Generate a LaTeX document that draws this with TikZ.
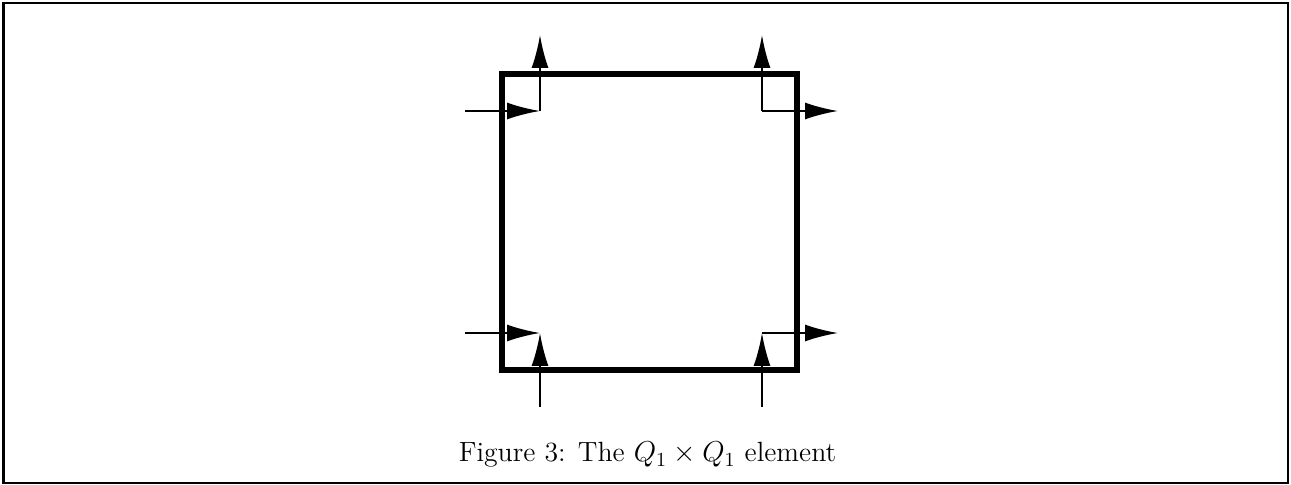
\documentclass[tikz,border=0pt]{standalone}
\usepackage{amsmath, amssymb}
\usetikzlibrary{arrows.meta}

\tikzset{
  flux/.style={line width=1pt, -{Latex[length=16.5pt, width=8.5pt]}},
  elem/.style={line width=2.6pt, line join=miter},
}

\begin{document}
\begin{tikzpicture}[x=0.5pt, y=-0.5pt]
		\useasboundingbox (0,0) rectangle (1291,485);
		\draw[line width=1.3pt] (3.5,3) rectangle (1288,483);
		\draw[elem] (502,74) rectangle (797,370);
		% corner points and the free ends of the arrows
		\coordinate (tl) at (540,111);
		\coordinate (tr) at (762,111);
		\coordinate (bl) at (540,333);
		\coordinate (br) at (762,333);
		\coordinate (tlw) at (465,111);
		\coordinate (tln) at (540,35);
		\coordinate (trn) at (762,35);
		\coordinate (tre) at (838,111);
		\coordinate (blw) at (465,333);
		\coordinate (bls) at (540,407);
		\coordinate (brs) at (762,407);
		\coordinate (bre) at (838,333);
		\draw[flux] (tlw) -- (tl);
		\draw[flux] (tl) -- (tln);
		\draw[flux] (tr) -- (trn);
		\draw[flux] (tr) -- (tre);
		\draw[flux] (blw) -- (bl);
		\draw[flux] (bls) -- (bl);
		\draw[flux] (brs) -- (br);
		\draw[flux] (br) -- (bre);
		\node[anchor=base, inner sep=0pt] (caption) at (647.5,462) {\fontsize{13.9}{16}\selectfont Figure 3: The \(Q_1 \times Q_1\) element};
	\end{tikzpicture}
\end{document}
